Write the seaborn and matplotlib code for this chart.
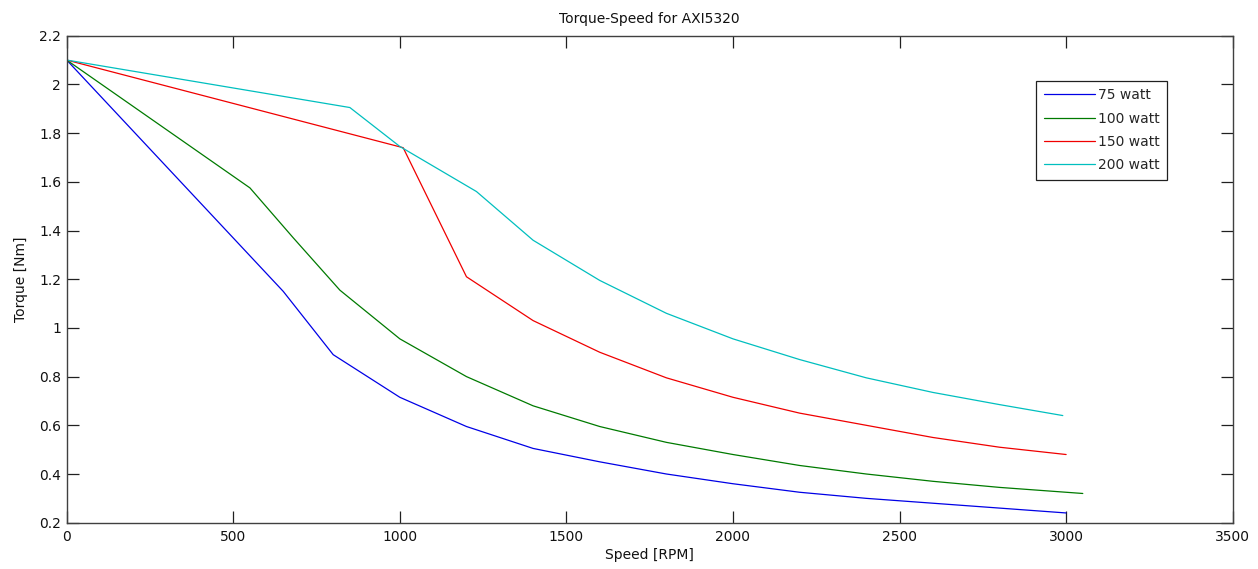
import matplotlib
matplotlib.use("Agg")
import matplotlib.pyplot as plt
import seaborn as sns
import pandas as pd

# ---- data ----
speed_75 = [0, 650, 800, 1000, 1200, 1400, 1600, 1800, 2000, 2200, 2400, 2600, 2800, 3000]
torque_75 = [2.1, 1.15, 0.89, 0.715, 0.595, 0.505, 0.45, 0.40, 0.36, 0.325, 0.30, 0.28, 0.26, 0.24]

speed_100 = [0, 550, 680, 820, 1000, 1200, 1400, 1600, 1800, 2000, 2200, 2400, 2600, 2800, 3050]
torque_100 = [2.1, 1.575, 1.37, 1.155, 0.955, 0.80, 0.68, 0.595, 0.53, 0.48, 0.435, 0.40, 0.37, 0.345, 0.32]

speed_150 = [0, 1010, 1200, 1400, 1600, 1800, 2000, 2200, 2400, 2600, 2800, 3000]
torque_150 = [2.1, 1.74, 1.21, 1.03, 0.90, 0.795, 0.715, 0.65, 0.60, 0.55, 0.51, 0.48]

speed_200 = [0, 850, 1000, 1230, 1400, 1600, 1800, 2000, 2200, 2400, 2600, 2800, 2990]
torque_200 = [2.1, 1.905, 1.745, 1.56, 1.36, 1.195, 1.06, 0.955, 0.87, 0.795, 0.735, 0.685, 0.64]

series_labels = ["75 watt", "100 watt", "150 watt", "200 watt"]
series_colors = ["#0000e6", "#007a00", "#f00000", "#00bfbf"]

x_ticks = [0, 500, 1000, 1500, 2000, 2500, 3000, 3500]
y_ticks = [0.2, 0.4, 0.6, 0.8, 1.0, 1.2, 1.4, 1.6, 1.8, 2.0, 2.2]
y_tick_labels = ["0.2", "0.4", "0.6", "0.8", "1", "1.2", "1.4", "1.6", "1.8", "2", "2.2"]

title_text = "Torque-Speed for AXI5320"
x_label = "Speed [RPM]"
y_label = "Torque [Nm]"

# ---- build long-form table ----
frames = []
for lab, xs, ys in zip(series_labels,
                       [speed_75, speed_100, speed_150, speed_200],
                       [torque_75, torque_100, torque_150, torque_200]):
    frames.append(pd.DataFrame({"speed": xs, "torque": ys, "series": lab}))
df = pd.concat(frames, ignore_index=True)

sns.set_style("ticks")
plt.rcParams["font.family"] = ["DejaVu Sans"]
plt.rcParams["font.size"] = 10

fig = plt.figure(figsize=(12.58, 5.69), dpi=100)
fig.patch.set_facecolor("white")
ax = fig.add_axes([66.7 / 1258, 1 - 522.7 / 569, (1232.7 - 66.7) / 1258, (522.7 - 35.7) / 569])

sns.lineplot(data=df, x="speed", y="torque", hue="series", hue_order=series_labels,
             palette=dict(zip(series_labels, series_colors)), estimator=None,
             sort=False, units="series", linewidth=0.9, ax=ax, legend=True)

ax.set_xlim(0, 3500)
ax.set_ylim(0.2, 2.2)
ax.set_xticks(x_ticks)
ax.set_xticklabels([str(t) for t in x_ticks])
ax.set_yticks(y_ticks)
ax.set_yticklabels(y_tick_labels)

spine_col = "#404040"
for s in ax.spines.values():
    s.set_visible(True)
    s.set_color(spine_col)
    s.set_linewidth(1.0)
ax.tick_params(direction="in", length=8.5, width=0.9, color="#202020",
               top=True, right=True, labelsize=10, labelcolor="#111111")
ax.tick_params(axis="y", pad=4)
ax.tick_params(axis="x", pad=5)

ax.set_xlabel(x_label, fontsize=10, labelpad=3, color="#111111")
ax.set_ylabel(y_label, fontsize=10, labelpad=8, color="#111111")
ax.set_title(title_text, fontsize=10, pad=9, color="#111111")

leg = ax.legend(loc="upper left", bbox_to_anchor=(1036 / 1258, 1 - 80.7 / 569),
                bbox_transform=fig.transFigure, frameon=True, fancybox=False,
                fontsize=10, handlelength=3.7, handletextpad=0.2, labelspacing=0.67,
                borderpad=0.55, borderaxespad=0)
leg.get_frame().set_edgecolor("#202020")
leg.get_frame().set_linewidth(0.9)
leg.get_frame().set_facecolor("white")
leg.get_frame().set_alpha(1)
for line in leg.get_lines():
    line.set_linewidth(0.9)

fig.savefig("out.png", dpi=100, facecolor="white")
